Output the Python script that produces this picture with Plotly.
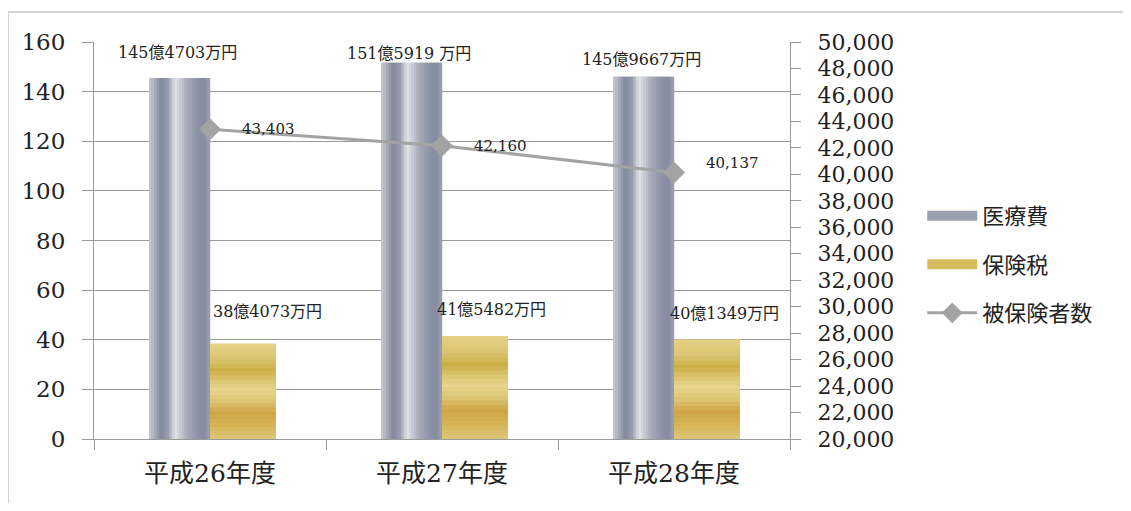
import plotly.graph_objects as go

# ---- data ----
categories = ["平成26年度", "平成27年度", "平成28年度"]
iryohi = [145.4703, 151.5919, 145.9667]          # 医療費 (億円)
iryohi_labels = ["145億4703万円", "151億5919 万円", "145億9667万円"]
hokenzei = [38.4073, 41.5482, 40.1349]            # 保険税 (億円)
hokenzei_labels = ["38億4073万円", "41億5482万円", "40億1349万円"]
hihokensha = [43403, 42160, 40137]                # 被保険者数
hihokensha_labels = ["43,403", "42,160", "40,137"]

left_ticks = [0, 20, 40, 60, 80, 100, 120, 140, 160]
right_ticks = list(range(20000, 50001, 2000))

# ---- style ----
SERIF = "DejaVu Serif, Noto Sans CJK JP, serif"
GRID = "#9a9a9a"

def hex2rgb(h):
    h = h.lstrip("#")
    return tuple(int(h[i:i + 2], 16) for i in (0, 2, 4))

def interp(profile, t):
    for (p0, c0), (p1, c1) in zip(profile, profile[1:]):
        if p0 <= t <= p1:
            f = (t - p0) / (p1 - p0) if p1 > p0 else 0
            a, b = hex2rgb(c0), hex2rgb(c1)
            return "rgb(%d,%d,%d)" % tuple(round(a[k] + (b[k] - a[k]) * f) for k in range(3))
    return profile[-1][1]

gray_profile = [(0.0, "#C8CAD2"), (0.08, "#B0B3BE"), (0.2, "#82869A"), (0.32, "#9A9DAE"),
                (0.42, "#E2E4E8"), (0.5, "#D0D2DA"), (0.62, "#A9ACB9"), (0.78, "#8E94A6"),
                (0.9, "#868CA0"), (1.0, "#9CA1B2")]
gold_profile = [(0.0, "#DDC77A"), (0.12, "#D6B75A"), (0.28, "#CFA444"), (0.40, "#DDC575"),
                (0.52, "#E7D58D"), (0.62, "#DCC46E"), (0.72, "#CCAD44"), (0.85, "#DCC675"),
                (1.0, "#E5D286")]

GRAY_OFF, GRAY_W = -0.263, 0.263
GOLD_OFF, GOLD_W = 0.0, 0.284

fig = go.Figure()

# base bars
fig.add_trace(go.Bar(x=categories, y=iryohi, name="医療費", offset=GRAY_OFF, width=GRAY_W,
                     marker=dict(color="#A4A6B4", line_width=0), showlegend=False,
                     hoverinfo="skip"))
fig.add_trace(go.Bar(x=categories, y=hokenzei, name="保険税", offset=GOLD_OFF, width=GOLD_W,
                     marker=dict(color="#D9C26A", line_width=0), showlegend=False,
                     hoverinfo="skip"))

# vertical strips for the silver cylinder look
NS = 24
for i in range(NS):
    t = (i + 0.5) / NS
    fig.add_trace(go.Bar(x=categories, y=iryohi, offset=GRAY_OFF + GRAY_W * i / NS,
                         width=GRAY_W / NS + 0.001, marker=dict(color=interp(gray_profile, t), line_width=0),
                         showlegend=False, hoverinfo="skip"))

# horizontal bands for the gold look
NB = 24
for i in range(NB):
    f0, f1 = i / NB, (i + 1) / NB
    t = (i + 0.5) / NB
    fig.add_trace(go.Bar(x=categories, y=[v * (f1 - f0) * 1.002 for v in hokenzei],
                         base=[v * f0 for v in hokenzei], offset=GOLD_OFF, width=GOLD_W,
                         marker=dict(color=interp(gold_profile, t), line_width=0),
                         showlegend=False, hoverinfo="skip"))

# line on secondary axis
fig.add_trace(go.Scatter(x=categories, y=hihokensha, name="被保険者数", yaxis="y2",
                         mode="lines+markers", line=dict(color="#A3A3A3", width=3),
                         marker=dict(symbol="diamond", size=17, color="#A3A3A3"),
                         legendgroup="c", legendrank=3))

# legend entries for the bars (wide swatches like the original)
fig.add_trace(go.Scatter(x=[None], y=[None], mode="lines", name="医療費",
                         line=dict(color="#9C9FAE", width=11), legendgroup="a", legendrank=1))
fig.add_trace(go.Scatter(x=[None], y=[None], mode="lines", name="保険税",
                         line=dict(color="#D6BC5C", width=11), legendgroup="b", legendrank=2))

annotations = []
gray_yshift = [26, 9, 17]
for c, v, lab, ys in zip(categories, iryohi, iryohi_labels, gray_yshift):
    annotations.append(dict(x=c, y=v, xref="x", yref="y", text=lab, showarrow=False,
                            xshift=-33, yshift=ys, font=dict(family=SERIF, size=16, color="#222")))
gold_yshift = [32, 26, 26]
gold_xshift = [57, 49, 50]
for c, v, lab, ys, xs in zip(categories, hokenzei, hokenzei_labels, gold_yshift, gold_xshift):
    annotations.append(dict(x=c, y=v, xref="x", yref="y", text=lab, showarrow=False,
                            xshift=xs, yshift=ys, font=dict(family=SERIF, size=16, color="#222")))
line_yshift = [0, 0, 10]
for c, v, lab, ys in zip(categories, hihokensha, hihokensha_labels, line_yshift):
    annotations.append(dict(x=c, y=v, xref="x", yref="y2", text=lab, showarrow=False,
                            xshift=58, yshift=ys, font=dict(family=SERIF, size=15, color="#222")))

fig.update_layout(
    width=1115, height=495,
    margin=dict(l=86, r=333, t=34, b=64),
    paper_bgcolor="white", plot_bgcolor="white",
    barmode="overlay",
    font=dict(family=SERIF, color="#222"),
    showlegend=True,
    legend=dict(x=1.19, y=0.615, xanchor="left", yanchor="top",
                font=dict(family=SERIF, size=22, color="#222"),
                traceorder="grouped", tracegroupgap=17, bgcolor="rgba(0,0,0,0)",
                itemwidth=50),
    xaxis=dict(type="category", range=[-0.5, 2.5], showline=True, linecolor=GRID, linewidth=1,
               ticks="outside", ticklen=10, tickcolor=GRID, tickson="boundaries",
               showgrid=False, tickfont=dict(family=SERIF, size=25, color="#222"),
               ticklabelstandoff=12),
    yaxis=dict(range=[0, 160], tickvals=left_ticks, showline=True, linecolor=GRID, linewidth=1,
               ticks="outside", ticklen=11, tickcolor=GRID, showgrid=True, gridcolor=GRID,
               gridwidth=1, zeroline=False, tickfont=dict(family=SERIF, size=23, color="#222"),
               ticklabelstandoff=12),
    yaxis2=dict(range=[20000, 50000], tickvals=right_ticks, tickformat=",", overlaying="y",
                side="right", showline=True, linecolor=GRID, linewidth=1, ticks="outside",
                ticklen=10, tickcolor=GRID, showgrid=False, zeroline=False,
                tickfont=dict(family=SERIF, size=22, color="#222"), ticklabelstandoff=12),
    annotations=annotations,
    shapes=[dict(type="rect", xref="paper", yref="paper", x0=-0.1236, x1=1.7, y0=-0.4, y1=1.0756,
                 line=dict(color="#C4C4C4", width=1.5), layer="below")],
)

fig.write_html("out.html")
